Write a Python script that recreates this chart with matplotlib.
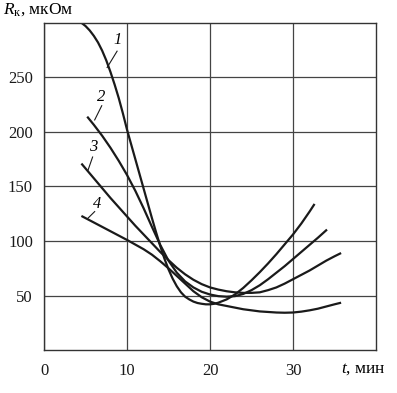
import matplotlib.pyplot as plt

plt.rcParams['font.family'] = ['Liberation Serif', 'DejaVu Serif']
plt.rcParams['mathtext.fontset'] = 'custom'
plt.rcParams['mathtext.rm'] = 'Liberation Serif'
plt.rcParams['mathtext.it'] = 'Liberation Serif:italic'

# curve 1
t1 = [4.5, 5, 5.5, 6, 6.5, 7, 7.5, 8, 8.5, 9, 9.5, 10, 10.5, 11, 11.5, 12, 12.5,
      13, 13.5, 14, 14.5, 15, 15.5, 16, 16.5, 17, 17.5, 18, 18.5, 19, 19.5, 20,
      20.5, 21, 22, 23, 24, 25, 26, 27, 28, 29, 30, 31, 32, 32.6]
r1 = [300, 297, 293, 288, 282, 274.5, 265.5, 255, 243.5, 231, 217, 202, 188.5, 175, 161.5, 148, 134.5,
      121, 108, 95.5, 84, 74, 65.5, 58.5, 53, 49, 46.5, 44.5, 43.2, 42.5, 42, 42,
      42.5, 43.5, 46.5, 51, 57, 64, 71.5, 79.5, 88, 97, 106, 116, 127, 134]

# curve 2
t2 = [5.2, 6, 7, 8, 9, 10, 11, 12, 13, 14, 15, 16, 17, 18, 19, 20, 21, 22,
      23, 24, 25, 26, 27, 28, 29, 30, 31, 32, 33, 34.1]
r2 = [214, 206.5, 196.5, 185.5, 173.5, 160.5, 146, 130, 113, 96.5, 82, 71, 63, 57.5, 53.5, 51, 49.5, 49,
      49.5, 51.5, 55, 59.5, 65, 71, 77, 83.5, 90, 96.5, 103, 110.5]

# curve 3
t3 = [4.5, 6, 7, 8, 9, 10, 11, 12, 13, 14, 15, 16, 17, 18, 19, 20, 21, 22,
      23, 24, 25, 26, 27, 28, 29, 30, 31, 32, 33, 34, 35, 35.8]
r3 = [171, 157.5, 148.5, 139.5, 131, 122.5, 114, 106, 98, 90, 82.5, 75.5, 69.5, 64.5, 60.5, 57.5, 55.5, 54,
      53, 52.5, 52.5, 53, 55, 57.5, 61, 65, 69, 73, 77.5, 82, 86, 89]

# curve 4
t4 = [4.5, 6, 8, 10, 12, 13, 14, 15, 16, 17, 18, 19, 20, 21, 22, 23, 24, 25,
      26, 27, 28, 29, 30, 31, 32, 33, 34, 35, 35.8]
r4 = [123, 117, 109, 101, 92.5, 87.5, 81.5, 75, 68, 61, 54, 48.5, 44.5, 42, 40.5, 39, 37.5, 36.5,
      35.5, 35, 34.5, 34.3, 34.5, 35.3, 36.5, 38, 40, 42, 43.5]

xticks = [0, 10, 20, 30]
yticks = [50, 100, 150, 200, 250]

fig = plt.figure(figsize=(3.97, 3.93), dpi=100)
ax = fig.add_axes([0.111, 0.109, 0.836, 0.833])

for t, r in [(t1, r1), (t2, r2), (t3, r3), (t4, r4)]:
    ax.plot(t, r, color='#1a1a1a', lw=1.6, solid_capstyle='butt', solid_joinstyle='round')

ax.set_xlim(0, 40)
ax.set_ylim(0, 300)
ax.set_xticks(xticks)
ax.set_yticks(yticks)
ax.set_xticklabels([str(v) for v in xticks])
ax.set_yticklabels([str(v) for v in yticks])
ax.tick_params(length=0, labelsize=12, colors='#1a1a1a')
ax.tick_params(axis='x', pad=9)
ax.tick_params(axis='y', pad=8)
ax.grid(True, color='#444444', lw=0.9)
for s in ax.spines.values():
    s.set_color('#333333')
    s.set_linewidth(1.0)

# curve numbers with leader lines
labels = [('1', (8.9, 284), (8.8, 274), (7.6, 259)),
          ('2', (6.9, 232), (6.95, 224), (6.1, 211)),
          ('3', (5.9, 186), (5.85, 177), (5.3, 165)),
          ('4', (6.4, 134), (6.1, 127), (5.3, 121))]
for txt, pos, a, b in labels:
    ax.text(pos[0], pos[1], txt, fontsize=12, style='italic', ha='center', va='center')
    ax.plot([a[0], b[0]], [a[1], b[1]], color='#1a1a1a', lw=0.8)

fig.text(0.008, 0.975, r'$R_\mathrm{к}$, мкОм', fontsize=12.5, ha='left', va='center')
ax.text(0.962, -0.058, r'$t$, мин', fontsize=12.5, ha='center', va='center',
        transform=ax.transAxes)

fig.savefig('out.png', dpi=100)
